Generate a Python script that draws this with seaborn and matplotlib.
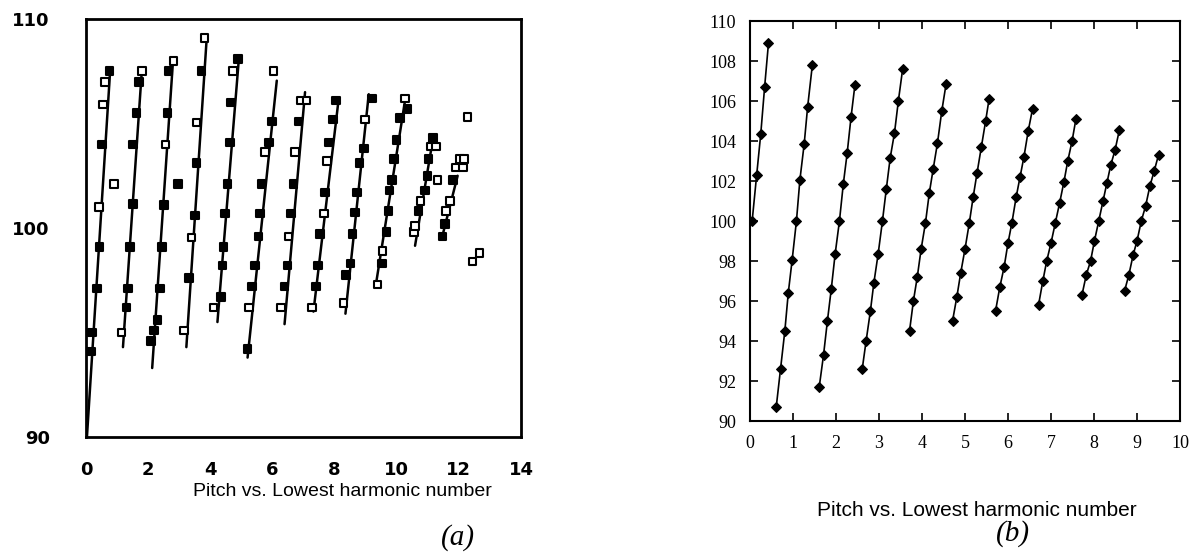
import numpy as np
import pandas as pd
import matplotlib
matplotlib.use("Agg")
import matplotlib.pyplot as plt
import seaborn as sns

# ---------------- Panel (a): measured pitch vs lowest harmonic number ----------------
a_seg_x = [
    [0.17, 0.19, 0.35, 0.44, 0.41, 0.52, 0.55, 0.62, 0.76],
    [1.14, 1.30, 1.35, 1.41, 1.52, 1.52, 1.62, 1.70, 1.81],
    [2.09, 2.19, 2.30, 2.38, 2.45, 2.52, 2.56, 2.62, 2.65, 2.81],
    [3.16, 3.31, 3.40, 3.50, 3.56, 3.56, 3.72, 3.81],
    [4.10, 4.35, 4.39, 4.42, 4.47, 4.56, 4.63, 4.67, 4.74, 4.90],
    [5.20, 5.25, 5.35, 5.44, 5.55, 5.60, 5.65, 5.76, 5.89, 5.98, 6.03],
    [6.28, 6.39, 6.49, 6.52, 6.60, 6.68, 6.73, 6.84, 6.92, 7.10],
    [7.27, 7.40, 7.46, 7.54, 7.65, 7.70, 7.75, 7.83, 7.94, 8.04],
    [8.29, 8.37, 8.51, 8.58, 8.65, 8.72, 8.80, 8.94, 8.97, 9.20],
    [9.38, 9.52, 9.54, 9.67, 9.73, 9.77, 9.84, 9.91, 9.99, 10.10, 10.27, 10.35],
    [10.56, 10.59, 10.70, 10.77, 10.91, 10.99, 11.02, 11.10, 11.17, 11.26],
    [11.47, 11.56, 11.58, 11.71, 11.82, 11.90, 12.03, 12.14, 12.17],
]
a_seg_y = [
    [94.1, 95.0, 97.1, 99.1, 101.0, 104.0, 105.9, 107.0, 107.5],
    [95.0, 96.2, 97.1, 99.1, 101.15, 104.0, 105.5, 107.0, 107.5],
    [94.6, 95.1, 95.6, 97.1, 99.1, 101.1, 104.0, 105.5, 107.5, 108.0],
    [95.1, 97.6, 99.55, 100.6, 103.1, 105.05, 107.5, 109.1],
    [96.2, 96.7, 98.2, 99.1, 100.7, 102.1, 104.1, 106.0, 107.5, 108.1],
    [94.2, 96.2, 97.2, 98.2, 99.6, 100.7, 102.1, 103.65, 104.1, 105.1, 107.5],
    [96.2, 97.2, 98.2, 99.6, 100.7, 102.1, 103.65, 105.1, 106.1, 106.1],
    [96.2, 97.2, 98.2, 99.7, 100.7, 101.7, 103.2, 104.1, 105.2, 106.1],
    [96.4, 97.75, 98.3, 99.7, 100.75, 101.7, 103.1, 103.8, 105.2, 106.2],
    [97.3, 98.3, 98.9, 99.8, 100.8, 101.8, 102.3, 103.3, 104.2, 105.25, 106.2, 105.7],
    [99.8, 100.1, 100.8, 101.3, 101.8, 102.5, 103.3, 103.9, 104.3, 103.9],
    [99.6, 100.2, 100.8, 101.3, 102.3, 102.9, 103.3, 102.9, 103.3],
]
# f = filled square, o = open square
a_seg_fill = [
    "ffffofoof",
    "offfffffo",
    "ffffffoffo",
    "ofoffofo",
    "offfffffof",
    "fofffffoffo",
    "offoffofoo",
    "offfofofff",
    "offfffffof",
    "ofofffffffof",
    "oofofffofo",
    "ffoofoooo",
]
a_out_x = [0.90, 2.97, 11.31, 12.28, 12.44, 12.66]
a_out_y = [102.1, 102.1, 102.3, 105.3, 98.4, 98.8]
a_out_fill = "ofoooo"

# fitted lines through each group (end points)
a_fit_x = [[0.03, 0.78], [1.19, 1.80], [2.13, 2.80], [3.23, 3.89], [4.23, 4.92],
           [5.20, 6.14], [6.39, 7.05], [7.32, 8.11], [8.35, 9.10], [9.32, 10.29],
           [10.59, 11.17], [11.45, 11.96]]
a_fit_y = [[90.0, 107.6], [94.3, 107.6], [93.3, 108.0], [94.3, 109.2], [95.5, 108.1],
           [93.8, 107.05], [95.4, 106.5], [96.0, 105.9], [95.9, 106.4], [97.2, 106.3],
           [99.15, 104.3], [99.5, 102.5]]

a_xticks_major = [0, 2, 4, 6, 8, 10, 12, 14]
a_xticks_minor = list(range(0, 15))
a_yticks = [90, 100, 110]

# ---------------- Panel (b): predicted pitch vs lowest harmonic number ----------------
b_seg_x = [
    [0.05, 0.155, 0.25, 0.34, 0.43],
    [0.61, 0.71, 0.81, 0.89, 0.98, 1.08, 1.16, 1.26, 1.34, 1.45],
    [1.61, 1.71, 1.80, 1.89, 1.98, 2.08, 2.17, 2.26, 2.35, 2.44],
    [2.61, 2.70, 2.80, 2.88, 2.98, 3.08, 3.17, 3.26, 3.36, 3.45, 3.55],
    [3.71, 3.80, 3.89, 3.98, 4.08, 4.17, 4.26, 4.36, 4.46, 4.56],
    [4.71, 4.81, 4.90, 5.00, 5.10, 5.19, 5.28, 5.38, 5.48, 5.56],
    [5.71, 5.81, 5.91, 6.00, 6.09, 6.19, 6.28, 6.37, 6.47, 6.57],
    [6.71, 6.81, 6.90, 7.00, 7.10, 7.20, 7.30, 7.39, 7.49, 7.58],
    [7.72, 7.82, 7.92, 8.01, 8.11, 8.21, 8.30, 8.39, 8.49, 8.59],
    [8.71, 8.81, 8.91, 9.00, 9.10, 9.20, 9.30, 9.40, 9.50],
]
b_seg_y = [
    [100.0, 102.3, 104.35, 106.7, 108.9],
    [90.7, 92.6, 94.5, 96.4, 98.05, 100.0, 102.05, 103.85, 105.7, 107.8],
    [91.7, 93.3, 95.0, 96.6, 98.35, 100.0, 101.85, 103.4, 105.2, 106.8],
    [92.6, 94.0, 95.5, 96.9, 98.35, 100.0, 101.6, 103.15, 104.4, 106.0, 107.6],
    [94.5, 96.0, 97.2, 98.6, 99.9, 101.4, 102.6, 103.9, 105.5, 106.85],
    [95.0, 96.2, 97.4, 98.6, 99.9, 101.2, 102.4, 103.7, 105.0, 106.1],
    [95.5, 96.7, 97.7, 98.9, 99.9, 101.2, 102.2, 103.2, 104.5, 105.6],
    [95.8, 97.0, 98.0, 98.9, 99.9, 100.9, 101.95, 103.0, 104.0, 105.1],
    [96.3, 97.3, 98.0, 99.0, 100.0, 101.0, 101.9, 102.8, 103.55, 104.55],
    [96.5, 97.3, 98.3, 99.0, 100.0, 100.75, 101.75, 102.5, 103.3],
]
b_xticks = list(range(0, 11))
b_yticks = list(range(90, 111, 2))

xlabel_text = "Pitch vs. Lowest harmonic number"
panel_labels = ["(a)", "(b)"]

# ---------------- build tables ----------------
rows = []
for k, (xs, ys, fs) in enumerate(zip(a_seg_x, a_seg_y, a_seg_fill)):
    for x, y, f in zip(xs, ys, fs):
        rows.append({"x": x, "y": y, "seg": k, "fill": "filled" if f == "f" else "open"})
for x, y, f in zip(a_out_x, a_out_y, a_out_fill):
    rows.append({"x": x, "y": y, "seg": -1, "fill": "filled" if f == "f" else "open"})
df_a = pd.DataFrame(rows)

df_fit = pd.DataFrame([{"x": x, "y": y, "seg": k}
                       for k, (xs, ys) in enumerate(zip(a_fit_x, a_fit_y))
                       for x, y in zip(xs, ys)])

df_b = pd.DataFrame([{"x": x, "y": y, "seg": k}
                     for k, (xs, ys) in enumerate(zip(b_seg_x, b_seg_y))
                     for x, y in zip(xs, ys)])

# ---------------- figure ----------------
sns.set_style("white")
plt.rcParams["font.family"] = ["DejaVu Sans"]

W, H = 1194, 559
fig = plt.figure(figsize=(W / 100, H / 100), dpi=100)

def rect(l, r, t, b):
    return [l / W, 1 - b / H, (r - l) / W, (b - t) / H]

ax_a = fig.add_axes(rect(86, 521, 19, 437))
ax_b = fig.add_axes(rect(750, 1180, 21, 421))

# ---- panel (a)
sns.lineplot(data=df_fit, x="x", y="y", units="seg", estimator=None, sort=False,
             color="black", lw=1.8, ax=ax_a, legend=False)
sns.scatterplot(data=df_a, x="x", y="y", hue="fill",
                palette={"filled": "black", "open": "white"},
                marker="s", s=30, edgecolor="black", linewidth=1.5,
                ax=ax_a, legend=False, zorder=3)
ax_a.set_xlim(0, 14)
ax_a.set_ylim(90, 110)
ax_a.set_xticks(a_xticks_major)
ax_a.set_xticks(a_xticks_minor, minor=True)
ax_a.set_yticks(a_yticks)
ax_a.set_xticklabels([str(t) for t in a_xticks_major], fontsize=13, fontweight="bold")
ax_a.set_yticklabels([str(t) for t in a_yticks], fontsize=13, fontweight="bold")
ax_a.tick_params(axis="both", which="both", direction="out", length=4, width=1.5,
                 color="black", labelcolor="black")
ax_a.tick_params(axis="x", which="major", pad=13)
ax_a.tick_params(axis="y", which="major", pad=22)
for sp in ax_a.spines.values():
    sp.set_visible(True)
    sp.set_color("black")
    sp.set_linewidth(2.0)
ax_a.set_xlabel("")
ax_a.set_ylabel("")

# ---- panel (b)
sns.lineplot(data=df_b, x="x", y="y", units="seg", estimator=None, sort=False,
             color="black", lw=1.2, marker="D", markersize=5,
             markeredgecolor="black", markerfacecolor="black", ax=ax_b, legend=False)
ax_b.set_xlim(0, 10)
ax_b.set_ylim(90, 110)
ax_b.set_xticks(b_xticks)
ax_b.set_yticks(b_yticks)
serif = ["Liberation Serif", "DejaVu Serif"]
ax_b.set_xticklabels([str(t) for t in b_xticks], fontsize=13, family=serif)
ax_b.set_yticklabels([str(t) for t in b_yticks], fontsize=13, family=serif)
ax_b.tick_params(axis="both", which="both", direction="in", length=6, width=1.2,
                 top=True, right=True, bottom=True, left=True,
                 color="black", labelcolor="black")
ax_b.tick_params(axis="x", pad=10)
ax_b.tick_params(axis="y", pad=10)
for sp in ax_b.spines.values():
    sp.set_visible(True)
    sp.set_color("black")
    sp.set_linewidth(1.5)
ax_b.set_xlabel("")
ax_b.set_ylabel("")

# ---- captions
sans = ["Liberation Sans", "DejaVu Sans"]
fig.text(342 / W, 1 - 492 / H, xlabel_text, ha="center", va="center",
         fontsize=14, family=sans, color="black")
fig.text(977 / W, 1 - 510 / H, xlabel_text, ha="center", va="center",
         fontsize=15, family=sans, color="black")
fig.text(458 / W, 1 - 538 / H, panel_labels[0], ha="center", va="center",
         fontsize=21, family=serif, style="italic", color="black")
fig.text(1013 / W, 1 - 534 / H, panel_labels[1], ha="center", va="center",
         fontsize=21, family=serif, style="italic", color="black")

fig.savefig("out.png", dpi=100, facecolor="white")
